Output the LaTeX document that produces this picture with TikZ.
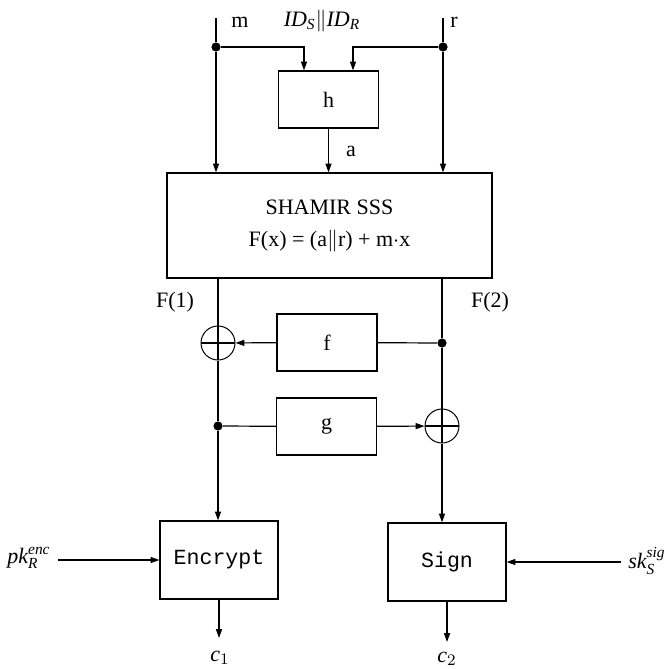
\documentclass[tikz,border=0pt]{standalone}
\usepackage{amsmath}
\usepackage{fontspec}
\setmainfont{Liberation Serif}
\setmonofont{Liberation Mono}
\usetikzlibrary{arrows.meta}

\begin{document}
\begin{tikzpicture}[x=0.5pt, y=-0.5pt, line width=0.6pt, font=\fontsize{11}{13}\selectfont,
	box/.style={draw, inner sep=0pt},
	smallbox/.style={box, minimum width=50pt, minimum height=28.5pt},
	algbox/.style={box, minimum width=59pt, minimum height=39pt, font=\fontsize{10.8}{13}\selectfont\ttfamily},
	xor/.style={draw, circle, inner sep=0pt, minimum size=17pt, line width=0.5pt,
		path picture={\draw[line width=0.6pt] (path picture bounding box.north) -- (path picture bounding box.south)
			(path picture bounding box.west) -- (path picture bounding box.east);}},
	dot/.style={circle, fill, inner sep=0pt, minimum size=4.6pt},
	arr/.style={-{Triangle[length=4.4pt, width=3pt]}}]
	
	\useasboundingbox (0,0) rectangle (666,669);
	
	\coordinate (m_in) at (216, 18);
	\coordinate (r_in) at (443, 18);
	\coordinate (c1_end) at (219, 638);
	\coordinate (c2_end) at (447, 642);
	
	% Split points on the inputs
	\node[dot] (m_dot) at (216, 47) {};
	\node[dot] (r_dot) at (443, 47) {};
	
	% Blocks
	\node[smallbox] (h) at (328.5, 99.5) {h};
	\node[box, minimum width=162.5pt, minimum height=52.5pt, align=center] (shamir) at (329.5, 225.5)
		{SHAMIR SSS\\[3pt] F(x) = (a$\|$r) + m$\cdot$x};
	\node[smallbox] (f) at (327, 342.5) {f};
	\node[smallbox] (g) at (326.5, 426.5) {g};
	\node[algbox] (enc) at (219, 560) {Encrypt};
	\node[algbox] (sign) at (447, 562) {Sign};
	
	% XOR gates and split points on the shares
	\node[xor] (xor_l) at (218, 343) {};
	\node[xor] (xor_r) at (442, 426) {};
	\node[dot] (f_dot) at (442, 343) {};
	\node[dot] (g_dot) at (218, 426) {};
	
	% Labels
	\node (m_lab) at (240, 22) {m};
	\node (id_lab) at (322, 21) {$\textit{ID}_{\textit{S}}\|\textit{ID}_{\textit{R}}$};
	\node (r_lab) at (454, 22) {r};
	\node (a_lab) at (351, 151) {a};
	\node (f1_lab) at (175, 302) {F(1)};
	\node (f2_lab) at (490, 302) {F(2)};
	\node (pk) at (29, 558) {$\textit{pk}_{\textit{R}}^{\textit{enc}}$};
	\node (sk) at (647, 561) {$\textit{sk}_{\textit{S}}^{\textit{sig}}$};
	\node (c1) at (220, 658) {$\textit{c}_1$};
	\node (c2) at (447, 659) {$\textit{c}_2$};
	
	% Inputs into h and SHAMIR
	\draw[arr] (m_in) -- (m_dot) -- (m_dot |- shamir.north);
	\draw[arr] (r_in) -- (r_dot) -- (r_dot |- shamir.north);
	\draw[arr] (m_dot) -| ([xshift=-12.25pt]h.north);
	\draw[arr] (r_dot) -| ([xshift=12.25pt]h.north);
	\draw[arr] (h) -- (h |- shamir.north);
	
	% The two shares
	\draw (xor_l |- shamir.south) -- (xor_l) -- (g_dot);
	\draw[arr] (g_dot) -- (g_dot |- enc.north);
	\draw (f_dot |- shamir.south) -- (f_dot) -- (xor_r);
	\draw[arr] (xor_r) -- (xor_r |- sign.north);
	
	% Cross links through f and g
	\draw (f_dot) -- (f);
	\draw[arr] (f) -- (xor_l);
	\draw (g_dot) -- (g);
	\draw[arr] (g) -- (xor_r);
	
	% Keys and outputs
	\draw[arr] (pk.east |- enc) -- (enc);
	\draw[arr] (sk.west |- sign) -- (sign);
	\draw[arr] (enc) -- (c1_end);
	\draw[arr] (sign) -- (c2_end);
	
\end{tikzpicture}
\end{document}
